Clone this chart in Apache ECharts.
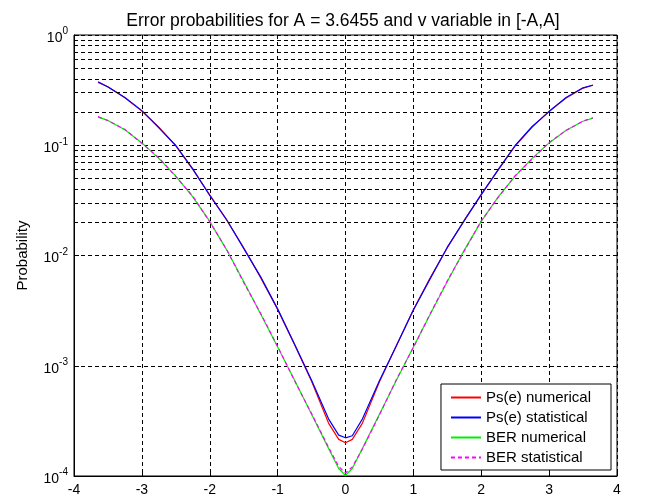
<!DOCTYPE html>
<html>
<head>
<meta charset="utf-8">
<script src="https://cdn.jsdelivr.net/npm/echarts@6/dist/echarts.min.js"></script>
<style>
html,body{margin:0;padding:0;background:#fff;}
#chart{width:645px;height:501px;}
</style>
</head>
<body>
<div id="chart"></div>
<script>
const titleText = 'Error probabilities for A = 3.6455 and v variable in [-A,A]';
const yAxisName = 'Probability';
const seriesNames = ['Ps(e) numerical', 'Ps(e) statistical', 'BER numerical', 'BER statistical'];
const vValues = [-3.6455, -3.5, -3.25, -3, -2.75, -2.5, -2.25, -2, -1.75, -1.5, -1.25, -1, -0.75, -0.5, -0.25, -0.1, 0,
                 0.1, 0.25, 0.5, 0.75, 1, 1.25, 1.5, 1.75, 2, 2.25, 2.5, 2.75, 3, 3.25, 3.5, 3.6455];
const psNumerical = [0.372, 0.339, 0.269, 0.204, 0.146, 0.0989, 0.0603, 0.0355, 0.0209, 0.01175, 0.0063, 0.00324, 0.00155, 0.000724, 0.000302, 0.000215, 0.000200,
                     0.000215, 0.000302, 0.000715, 0.00153, 0.00322, 0.0063, 0.01175, 0.0209, 0.0355, 0.0603, 0.0989, 0.146, 0.204, 0.268, 0.330, 0.352];
const psStatistical = [0.376, 0.337, 0.271, 0.206, 0.144, 0.0995, 0.0610, 0.0350, 0.0211, 0.0116, 0.0064, 0.00328, 0.00157, 0.00074, 0.00033, 0.000235, 0.000222,
                       0.000232, 0.00033, 0.00073, 0.00152, 0.00320, 0.0062, 0.0119, 0.0207, 0.0358, 0.0598, 0.0995, 0.148, 0.202, 0.271, 0.332, 0.350];
const berNumerical = [0.180, 0.168, 0.138, 0.105, 0.076, 0.0525, 0.034, 0.0204, 0.0112, 0.0058, 0.00295, 0.00148, 0.00074, 0.000363, 0.000178, 0.000117, 0.000101,
                      0.000117, 0.000178, 0.000363, 0.00074, 0.00148, 0.00295, 0.0058, 0.0112, 0.0204, 0.034, 0.0525, 0.076, 0.105, 0.137, 0.165, 0.176];
const berStatistical = [0.182, 0.167, 0.139, 0.104, 0.077, 0.0520, 0.0345, 0.0202, 0.0113, 0.0057, 0.00298, 0.00150, 0.00073, 0.000368, 0.000182, 0.000122, 0.000106,
                        0.000121, 0.000176, 0.000358, 0.00075, 0.00146, 0.00297, 0.0059, 0.0110, 0.0206, 0.0337, 0.0530, 0.075, 0.106, 0.136, 0.166, 0.177];
const xTicks = [-4, -3, -2, -1, 0, 1, 2, 3, 4];
const yDecades = [1e-4, 1e-3, 1e-2, 1e-1, 1];
const minorMultipliers = [2, 3, 4, 5, 6, 7, 8, 9];

const colors = ['#ff0000', '#0000ff', '#00ee00', '#ff00ff'];
const dash = [4, 3];

function pairs(ys) { return vValues.map((v, i) => [v, ys[i]]); }

const minorLines = [];
for (let d = 0; d < yDecades.length - 1; d++) {
  for (const m of minorMultipliers) minorLines.push({ yAxis: yDecades[d] * m });
}

const chart = echarts.init(document.getElementById('chart'), null, { renderer: 'canvas' });
const font = 'Arial, "Liberation Sans", sans-serif';
chart.setOption({
  animation: false,
  backgroundColor: '#fff',
  textStyle: { fontFamily: font },
  title: {
    text: titleText, left: 338, top: 7, textAlign: 'center',
    textStyle: { fontFamily: font, fontSize: 17.5, fontWeight: 'normal', color: '#000' }
  },
  grid: { left: 74, right: 28, top: 35, bottom: 25, show: true, borderColor: '#000', borderWidth: 1, backgroundColor: 'transparent' },
  legend: {
    orient: 'vertical', right: 34, bottom: 31,
    backgroundColor: '#fff', borderColor: '#000', borderWidth: 1, borderRadius: 0,
    padding: [6, 20, 5, 9], itemGap: 5, itemWidth: 30, itemHeight: 14,
    itemStyle: { opacity: 0 },
    textStyle: { fontFamily: font, fontSize: 15, color: '#000' },
    data: seriesNames
  },
  xAxis: {
    type: 'value', min: xTicks[0], max: xTicks[xTicks.length - 1], interval: 1,
    axisLine: { show: true, onZero: false, lineStyle: { color: '#000' } },
    axisTick: { show: true, inside: true, length: 5, lineStyle: { color: '#000' } },
    axisLabel: { color: '#000', fontSize: 14, margin: 7, fontFamily: font },
    splitLine: { show: true, lineStyle: { color: '#000', type: dash, width: 1 } }
  },
  yAxis: {
    type: 'log', logBase: 10, min: yDecades[0], max: yDecades[yDecades.length - 1],
    name: yAxisName, nameLocation: 'middle', nameGap: 44, nameRotate: 90,
    nameTextStyle: { fontFamily: font, fontSize: 15, color: '#000' },
    axisLine: { show: true, onZero: false, lineStyle: { color: '#000' } },
    axisTick: { show: true, inside: true, length: 5, lineStyle: { color: '#000' } },
    axisLabel: {
      color: '#000', margin: 6,
      formatter: function (val) {
        const e = Math.round(Math.log10(val));
        return '{b|10}{e|' + e + '}';
      },
      rich: {
        b: { fontSize: 14, fontFamily: font, color: '#000', padding: [6, 0, 0, 0] },
        e: { fontSize: 10, fontFamily: font, color: '#000', padding: [0, 0, 7, 0] }
      }
    },
    splitLine: { show: true, lineStyle: { color: '#000', type: dash, width: 1 } }
  },
  series: [
    {
      name: seriesNames[0], type: 'line', data: pairs(psNumerical), showSymbol: false, symbol: 'none',
      lineStyle: { color: colors[0], width: 1.2 }, itemStyle: { color: colors[0] }, z: 3,
      markLine: {
        silent: true, symbol: ['none', 'none'], label: { show: false },
        lineStyle: { color: '#000', type: dash, width: 1 }, data: minorLines, animation: false
      }
    },
    {
      name: seriesNames[1], type: 'line', data: pairs(psStatistical), showSymbol: false, symbol: 'none',
      lineStyle: { color: colors[1], width: 1.2 }, itemStyle: { color: colors[1] }, z: 4
    },
    {
      name: seriesNames[2], type: 'line', data: pairs(berNumerical), showSymbol: false, symbol: 'none',
      lineStyle: { color: colors[2], width: 1.2 }, itemStyle: { color: colors[2] }, z: 5
    },
    {
      name: seriesNames[3], type: 'line', data: pairs(berStatistical), showSymbol: false, symbol: 'none',
      lineStyle: { color: colors[3], width: 1.2, type: [4, 3] }, itemStyle: { color: colors[3] }, z: 6
    }
  ]
});
</script>
</body>
</html>
